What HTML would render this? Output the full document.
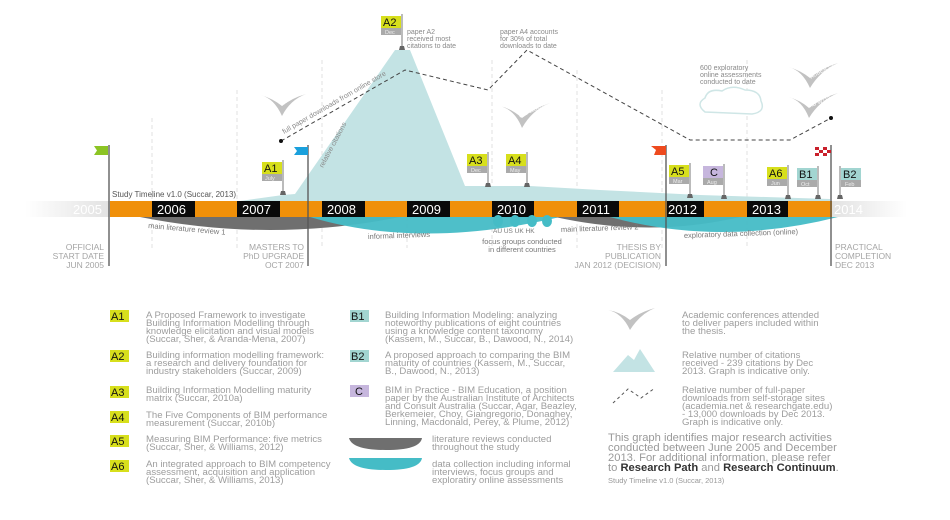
<!DOCTYPE html>
<html><head><meta charset="utf-8"><style>
body{margin:0;background:#fff}
svg{display:block;font-family:"Liberation Sans",Arial,sans-serif}
.g{fill:#9d9d9d;font-size:9.6px}
.cap{fill:#a5a5a5;font-size:8.5px}
.yr{fill:#fff;font-size:13px}
.sm{fill:#8a8a8a;font-size:7px}
</style></head><body>
<svg width="950" height="520" viewBox="0 0 950 520">
<defs>
<linearGradient id="fl" x1="0" x2="1"><stop offset="0" stop-color="#fff"/><stop offset="1" stop-color="#e2e2e2"/></linearGradient>
<linearGradient id="fr" x1="0" x2="1"><stop offset="0" stop-color="#e2e2e2"/><stop offset="1" stop-color="#fff"/></linearGradient>
</defs>
<g stroke="#e2e2e2" stroke-dasharray="4,3" stroke-width="1">
<line x1="152" y1="118" x2="152" y2="248"/><line x1="237" y1="90" x2="237" y2="248"/>
<line x1="322" y1="60" x2="322" y2="248"/><line x1="407" y1="70" x2="407" y2="248"/>
<line x1="492" y1="60" x2="492" y2="248"/><line x1="577" y1="70" x2="577" y2="248"/>
<line x1="662" y1="90" x2="662" y2="248"/><line x1="747" y1="60" x2="747" y2="248"/>
</g>
<polygon points="240,201 283,195 295,194 395,50 410,50 465,186 530,186 600,190 700,195 830,199 830,201" fill="#c3e3e4"/>
<polyline points="281,141 405,70 488,90 527,50 690,140 790,140 831,118" fill="none" stroke="#444" stroke-width="1" stroke-dasharray="4,3"/>
<circle cx="281" cy="141" r="2" fill="#111"/><circle cx="831" cy="118" r="2" fill="#111"/>
<text class="sm" transform="translate(284,134) rotate(-30)">full paper downloads from online store</text>
<text class="sm" transform="translate(323,168) rotate(-62)">relative citations</text>
<g fill="#c2c2c2">
<path d="M260,95 Q274,98 282,116 Q290,100 306,94 Q292,98 282,106 Q272,98 260,95Z"/>
<path d="M500,106 Q515,110 522,128 Q532,110 550,103 Q535,108 522,118 Q512,109 500,106Z"/>
<path d="M788,67 Q802,70 810,88 Q820,71 838,63 Q822,68 810,78 Q800,70 788,67Z"/>
<path d="M788,97 Q802,100 809,118 Q819,101 838,93 Q822,98 809,108 Q800,100 788,97Z"/>
</g>
<g fill="#fff" font-size="5.5"><text transform="translate(282,106) rotate(-35)">AUBEA 07</text>
<text transform="translate(520,118) rotate(-25)">CIB WBC10</text>
<text transform="translate(811,79) rotate(-30)">AUBEA 13</text>
<text transform="translate(808,108) rotate(-20)">CIB W113</text></g>
<path d="M705,112 Q695,104 705,98 Q708,88 722,91 Q732,84 745,90 Q760,90 761,101 Q766,112 752,114 Z" fill="#fff" stroke="#cfe6e6" stroke-width="1.5"/>
<g class="sm"><text x="407" y="34">paper A2</text><text x="407" y="41">received most</text><text x="407" y="48">citations to date</text>
<text x="500" y="34">paper A4 accounts</text><text x="500" y="41">for 30% of total</text><text x="500" y="48">downloads to date</text>
<text x="700" y="70">600 exploratory</text><text x="700" y="77">online assessments</text><text x="700" y="84">conducted to date</text></g>
<rect x="25" y="201" width="85" height="16" fill="url(#fl)"/>
<rect x="110" y="201" width="722" height="16" fill="#f0900a"/>
<rect x="832" y="201" width="75" height="16" fill="url(#fr)"/>
<g fill="#0a0a0a"><rect x="152" y="201" width="43" height="16"/><rect x="237" y="201" width="43" height="16"/><rect x="322" y="201" width="43" height="16"/><rect x="407" y="201" width="43" height="16"/><rect x="492" y="201" width="42" height="16"/><rect x="577" y="201" width="42" height="16"/><rect x="667" y="201" width="37" height="16"/><rect x="747" y="201" width="41" height="16"/></g>
<text x="73" y="214" fill="#fff" font-size="13">2005</text>
<g class="yr"><text x="157" y="214">2006</text><text x="242" y="214">2007</text><text x="327" y="214">2008</text><text x="412" y="214">2009</text><text x="497" y="214">2010</text><text x="582" y="214">2011</text><text x="668" y="214">2012</text><text x="752" y="214">2013</text></g>
<text x="834" y="214" fill="#fff" font-size="13">2014</text>
<path d="M140,217 Q270,243 400,217Z" fill="#6f6f6f"/>
<path d="M310,217 Q420,250 560,217Z" fill="#45bcc6" opacity="0.95"/>
<path d="M555,217 Q650,238 740,217Z" fill="#6f6f6f"/>
<path d="M610,217 Q720,247 838,217Z" fill="#45bcc6" opacity="0.95"/>
<g fill="#45bcc6"><ellipse cx="498" cy="221" rx="5" ry="6"/><ellipse cx="515" cy="221" rx="5" ry="6"/><ellipse cx="532" cy="221" rx="5" ry="6"/><ellipse cx="547" cy="221" rx="5" ry="6"/></g>
<g fill="#777" font-size="7.5"><text transform="translate(148,228) rotate(5)">main literature review 1</text>
<text x="368" y="239" transform="rotate(-2 368 239)">informal interviews</text>
<text x="493" y="233" font-size="6.5">AU  US  UK  HK</text>
<text x="522" y="244" text-anchor="middle">focus groups conducted</text><text x="522" y="252" text-anchor="middle">in different countries</text>
<text x="561" y="232" transform="rotate(-2 561 232)">main literature review 2</text>
<text x="684" y="238" transform="rotate(-2 684 238)">exploratory data collection (online)</text></g>
<text x="112" y="197" fill="#555" font-size="8">Study Timeline v1.0 (Succar, 2013)</text>
<g stroke="#555" stroke-width="1.3"><line x1="109" y1="145" x2="109" y2="266"/><line x1="308" y1="145" x2="308" y2="266"/><line x1="666" y1="145" x2="666" y2="266"/><line x1="831" y1="145" x2="831" y2="266"/></g>
<polygon points="94,146 108,146 108,155 94,155 97,150.5" fill="#8cc424"/>
<polygon points="294,147 308,147 308,155 294,155 297,151" fill="#1aa0dc"/>
<polygon points="651,146 666,146 666,155 654,155 656,150" fill="#ee4a1e"/>
<g fill="#c9202b"><rect x="815" y="147" width="4" height="3"/><rect x="823" y="147" width="4" height="3"/><rect x="819" y="150" width="4" height="3"/><rect x="827" y="150" width="4" height="3"/><rect x="815" y="153" width="4" height="3"/><rect x="823" y="153" width="4" height="3"/></g>
<g font-size="11" fill="#111">
<g transform="translate(283,160)"><line x1="0" y1="0" x2="0" y2="33" stroke="#777"/><path d="M-3,35 L3,35 L2,31 L-2,31Z" fill="#666"/><rect x="-21" y="2" width="20" height="12" fill="#d7df1c"/><rect x="-21" y="14" width="20" height="7" fill="#aaa"/><text x="-19" y="12">A1</text><text x="-18" y="20" font-size="5.5" fill="#eee">July</text></g>
<g transform="translate(402,14)"><line x1="0" y1="0" x2="0" y2="34" stroke="#777"/><path d="M-3,36 L3,36 L2,32 L-2,32Z" fill="#666"/><rect x="-21" y="2" width="20" height="12" fill="#d7df1c"/><rect x="-21" y="14" width="20" height="7" fill="#aaa"/><text x="-19" y="12">A2</text><text x="-17" y="20" font-size="5.5" fill="#eee">Dec</text></g>
<g transform="translate(488,152)"><line x1="0" y1="0" x2="0" y2="33" stroke="#777"/><path d="M-3,35 L3,35 L2,31 L-2,31Z" fill="#666"/><rect x="-21" y="2" width="20" height="12" fill="#d7df1c"/><rect x="-21" y="14" width="20" height="7" fill="#aaa"/><text x="-19" y="12">A3</text><text x="-17" y="20" font-size="5.5" fill="#eee">Dec</text></g>
<g transform="translate(527,152)"><line x1="0" y1="0" x2="0" y2="33" stroke="#777"/><path d="M-3,35 L3,35 L2,31 L-2,31Z" fill="#666"/><rect x="-21" y="2" width="20" height="12" fill="#d7df1c"/><rect x="-21" y="14" width="20" height="7" fill="#aaa"/><text x="-19" y="12">A4</text><text x="-17" y="20" font-size="5.5" fill="#eee">May</text></g>
<g transform="translate(690,163)"><line x1="0" y1="0" x2="0" y2="33" stroke="#777"/><path d="M-3,35 L3,35 L2,31 L-2,31Z" fill="#666"/><rect x="-21" y="2" width="20" height="12" fill="#d7df1c"/><rect x="-21" y="14" width="20" height="7" fill="#aaa"/><text x="-19" y="12">A5</text><text x="-17" y="20" font-size="5.5" fill="#eee">Mar</text></g>
<g transform="translate(724,164)"><line x1="0" y1="0" x2="0" y2="33" stroke="#777"/><path d="M-3,35 L3,35 L2,31 L-2,31Z" fill="#666"/><rect x="-21" y="2" width="20" height="12" fill="#c6b6dd"/><rect x="-21" y="14" width="20" height="7" fill="#aaa"/><text x="-14" y="12">C</text><text x="-17" y="20" font-size="5.5" fill="#eee">Aug</text></g>
<g transform="translate(788,165)"><line x1="0" y1="0" x2="0" y2="32" stroke="#777"/><path d="M-3,34 L3,34 L2,30 L-2,30Z" fill="#666"/><rect x="-21" y="2" width="20" height="12" fill="#d7df1c"/><rect x="-21" y="14" width="20" height="7" fill="#aaa"/><text x="-19" y="12">A6</text><text x="-17" y="20" font-size="5.5" fill="#eee">Jun</text></g>
<g transform="translate(818,166)"><line x1="0" y1="0" x2="0" y2="31" stroke="#777"/><path d="M-3,33 L3,33 L2,29 L-2,29Z" fill="#666"/><rect x="-21" y="2" width="20" height="12" fill="#a2d5d1"/><rect x="-21" y="14" width="20" height="7" fill="#aaa"/><text x="-19" y="12">B1</text><text x="-17" y="20" font-size="5.5" fill="#eee">Oct</text></g>
<g transform="translate(840,166)"><line x1="0" y1="0" x2="0" y2="31" stroke="#777"/><path d="M-3,33 L3,33 L2,29 L-2,29Z" fill="#666"/><rect x="1" y="2" width="20" height="12" fill="#a2d5d1"/><rect x="1" y="14" width="20" height="7" fill="#aaa"/><text x="3" y="12">B2</text><text x="5" y="20" font-size="5.5" fill="#eee">Feb</text></g>
</g>
<g class="cap" text-anchor="end"><text x="104" y="250">OFFICIAL</text><text x="104" y="259">START DATE</text><text x="104" y="268">JUN 2005</text>
<text x="304" y="250">MASTERS TO</text><text x="304" y="259">PhD UPGRADE</text><text x="304" y="268">OCT 2007</text>
<text x="661" y="250">THESIS BY</text><text x="661" y="259">PUBLICATION</text><text x="661" y="268">JAN 2012 (DECISION)</text></g>
<g class="cap"><text x="835" y="250">PRACTICAL</text><text x="835" y="259">COMPLETION</text><text x="835" y="268">DEC 2013</text></g>
<g font-size="11" fill="#111">
<rect x="110" y="310" width="19" height="12" fill="#d7df1c"/><text x="111" y="320">A1</text>
<rect x="110" y="350" width="19" height="12" fill="#d7df1c"/><text x="111" y="360">A2</text>
<rect x="110" y="386" width="19" height="12" fill="#d7df1c"/><text x="111" y="396">A3</text>
<rect x="110" y="411" width="19" height="12" fill="#d7df1c"/><text x="111" y="421">A4</text>
<rect x="110" y="435" width="19" height="12" fill="#d7df1c"/><text x="111" y="445">A5</text>
<rect x="110" y="460" width="19" height="12" fill="#d7df1c"/><text x="111" y="470">A6</text>
<rect x="350" y="310" width="19" height="12" fill="#a2d5d1"/><text x="351" y="320">B1</text>
<rect x="350" y="350" width="19" height="12" fill="#a2d5d1"/><text x="351" y="360">B2</text>
<rect x="350" y="385" width="19" height="12" fill="#c6b6dd"/><text x="355" y="395">C</text>
</g>
<g class="g">
<text x="146" y="318">A Proposed Framework to investigate</text><text x="146" y="326">Building Information Modelling through</text><text x="146" y="334">knowledge elicitation and visual models</text><text x="146" y="342">(Succar, Sher, &amp; Aranda-Mena, 2007)</text>
<text x="146" y="358">Building information modelling framework:</text><text x="146" y="366">a research and delivery foundation for</text><text x="146" y="374">industry stakeholders (Succar, 2009)</text>
<text x="146" y="393">Building Information Modelling maturity</text><text x="146" y="401">matrix (Succar, 2010a)</text>
<text x="146" y="418">The Five Components of BIM performance</text><text x="146" y="426">measurement (Succar, 2010b)</text>
<text x="146" y="442">Measuring BIM Performance: five metrics</text><text x="146" y="450">(Succar, Sher, &amp; Williams, 2012)</text>
<text x="146" y="467">An integrated approach to BIM competency</text><text x="146" y="475">assessment, acquisition and application</text><text x="146" y="483">(Succar, Sher, &amp; Williams, 2013)</text>
<text x="385" y="318">Building Information Modeling: analyzing</text><text x="385" y="326">noteworthy publications of eight countries</text><text x="385" y="334">using a knowledge content taxonomy</text><text x="385" y="342">(Kassem, M., Succar, B., Dawood, N., 2014)</text>
<text x="385" y="358">A proposed approach to comparing the BIM</text><text x="385" y="366">maturity of countries (Kassem, M., Succar,</text><text x="385" y="374">B., Dawood, N., 2013)</text>
<text x="385" y="393">BIM in Practice - BIM Education, a position</text><text x="385" y="401">paper by the Australian Institute of Architects</text><text x="385" y="409">and Consult Australia (Succar, Agar, Beazley,</text><text x="385" y="417">Berkemeier, Choy, Giangregorio, Donaghey,</text><text x="385" y="425">Linning, Macdonald, Perey, &amp; Plume, 2012)</text>
<text x="432" y="442">literature reviews conducted</text><text x="432" y="450">throughout the study</text>
<text x="432" y="467">data collection including informal</text><text x="432" y="475">interviews, focus groups and</text><text x="432" y="483">exploratiry online assessments</text>
<text x="682" y="318">Academic conferences attended</text><text x="682" y="326">to deliver papers included within</text><text x="682" y="334">the thesis.</text>
<text x="682" y="358">Relative number of citations</text><text x="682" y="366">received - 239 citations by Dec</text><text x="682" y="374">2013. Graph is indicative only.</text>
<text x="682" y="393">Relative number of full-paper</text><text x="682" y="401">downloads from self-storage sites</text><text x="682" y="409">(academia.net &amp; researchgate.edu)</text><text x="682" y="417">- 13,000 downloads by Dec 2013.</text><text x="682" y="425">Graph is indicative only.</text>
</g>
<path d="M349,438 L422,438 Q420,450 386,450 Q352,450 349,438Z" fill="#6f6f6f"/>
<path d="M349,458 L422,458 Q420,470 386,470 Q352,470 349,458Z" fill="#45bcc6"/>
<path d="M608,310 Q622,313 630,330 Q640,314 655,308 Q640,312 630,320 Q620,312 608,310Z" fill="#c2c2c2"/>
<polygon points="613,372 628,355 634,360 640,349 655,372" fill="#c3e3e4"/>
<polyline points="613,403 628,389 641,398 655,388" fill="none" stroke="#555" stroke-dasharray="3,3"/>
<g font-size="11.2" fill="#999">
<text x="608" y="441">This graph identifies major research activities</text>
<text x="608" y="451">conducted between June 2005 and December</text>
<text x="608" y="461">2013. For additional information, please refer</text>
<text x="608" y="471">to <tspan font-weight="bold" fill="#333">Research Path</tspan> and <tspan font-weight="bold" fill="#333">Research Continuum</tspan>.</text>
</g>
<text x="608" y="483" fill="#999" font-size="7.5">Study Timeline v1.0 (Succar, 2013)</text>
</svg>
</body></html>
